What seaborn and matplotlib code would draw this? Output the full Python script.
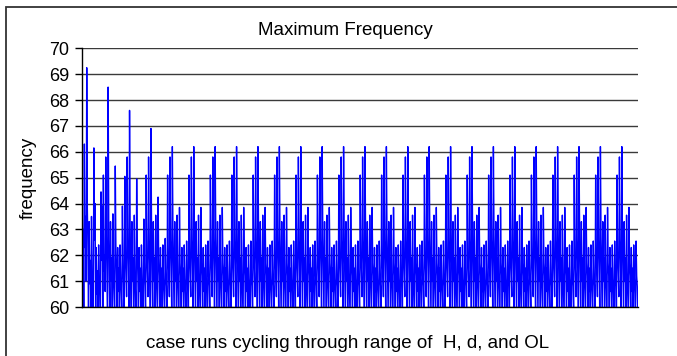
import matplotlib
matplotlib.use("Agg")
import matplotlib.pyplot as plt
from matplotlib.patches import Rectangle
import pandas as pd
import seaborn as sns

# Each case cycle: 9 spikes (3 groups of 3), 4 samples per spike,
# values (below 60 is clipped by the axis)
CYCLE_0_PART = [65.1, 62.2, 63.0, 59.6,
                66.3, 62.3, 63.5, 61.0,
                69.25, 63.8, 62.3, 59.6]

CYCLE_1 = [63.3, 60.9, 61.8, 59.6,
           63.5, 61.2, 60.4, 59.6,
           66.15, 62.6, 64.0, 59.6,
           62.3, 60.5, 61.4, 59.6,
           62.4, 61.0, 60.6, 59.6,
           64.45, 61.8, 63.9, 59.6,
           65.1, 61.4, 62.0, 60.6,
           65.8, 62.5, 61.4, 59.6,
           68.5, 63.3, 61.0, 59.6]

CYCLE_2 = [63.3, 61.0, 61.9, 59.6,
           63.6, 61.3, 60.5, 59.6,
           65.45, 62.4, 61.2, 59.6,
           62.3, 60.6, 61.5, 59.6,
           62.4, 61.1, 60.5, 59.6,
           63.9, 61.6, 60.9, 59.6,
           65.05, 62.0, 61.3, 60.4,
           65.8, 62.6, 61.5, 59.6,
           67.6, 63.2, 61.1, 59.6]

CYCLE_3 = [63.3, 61.0, 61.9, 59.6,
           63.55, 61.3, 60.5, 59.6,
           64.95, 62.2, 61.2, 59.6,
           62.3, 60.6, 61.5, 59.6,
           62.4, 61.1, 60.5, 59.6,
           63.4, 61.4, 60.8, 59.6,
           65.1, 62.0, 61.3, 60.4,
           65.8, 62.6, 61.5, 59.6,
           66.9, 63.0, 61.1, 59.6]

CYCLE_4 = [63.3, 61.0, 61.9, 59.6,
           63.55, 61.3, 60.5, 59.6,
           64.25, 61.9, 61.2, 59.6,
           62.3, 60.6, 61.5, 59.6,
           62.4, 61.1, 60.5, 59.6,
           62.65, 61.2, 60.8, 59.6,
           65.1, 62.0, 61.3, 60.4,
           65.8, 62.6, 61.5, 59.6,
           66.2, 62.9, 61.1, 59.6]

STEADY_CYCLE = [63.3, 61.0, 61.9, 59.6,
                63.55, 61.3, 60.5, 59.6,
                63.85, 61.7, 61.2, 59.6,
                62.3, 60.6, 61.5, 59.6,
                62.4, 61.1, 60.5, 59.6,
                62.55, 61.2, 60.8, 59.6,
                65.1, 62.0, 61.3, 60.4,
                65.8, 62.6, 61.5, 59.6,
                66.2, 62.9, 61.1, 59.6]
N_STEADY = 21
LAST_PART = STEADY_CYCLE[:24]

TITLE = "Maximum Frequency"
X_LABEL = "case runs cycling through range of  H, d, and OL"
Y_LABEL = "frequency"
Y_TICKS = list(range(60, 71))


def main():
    freq = (CYCLE_0_PART + CYCLE_1 + CYCLE_2 + CYCLE_3 + CYCLE_4
            + STEADY_CYCLE * N_STEADY + LAST_PART)
    df = pd.DataFrame({"case": range(len(freq)), "frequency": freq})

    sns.set_style("white")
    plt.rcParams['font.family'] = ['Liberation Sans', 'DejaVu Sans']
    plt.rcParams['text.color'] = 'black'
    plt.rcParams['ytick.color'] = 'black'

    fig = plt.figure(figsize=(6.77, 3.56), dpi=100)
    ax = fig.add_axes([0.1211, 0.1376, 0.8211, 0.7267])
    sns.lineplot(data=df, x="case", y="frequency", color="#0000ff",
                 lw=1.0, ax=ax)

    ax.set_xlim(0, len(freq) - 1)
    ax.set_ylim(Y_TICKS[0], Y_TICKS[-1])
    ax.set_yticks(Y_TICKS)
    ax.set_xticks([])
    ax.set_axisbelow(True)
    ax.yaxis.grid(True, color="#3a3a3a", lw=1)
    ax.set_xlabel("")
    ax.set_ylabel("")
    for side in ["top", "right"]:
        ax.spines[side].set_visible(False)
    for side in ["left", "bottom"]:
        ax.spines[side].set_color("black")
        ax.spines[side].set_linewidth(1)
    ax.tick_params(axis="y", left=True, direction="out", length=5,
                   width=1, color="black", labelcolor="black",
                   labelsize=13, pad=4)

    fig.text(0.51, 0.913, TITLE, ha="center", va="center", fontsize=13.5)
    fig.text(0.042, 0.5, Y_LABEL, ha="center", va="center",
             rotation=90, fontsize=13.5)
    fig.text(0.514, 0.036, X_LABEL, ha="center", va="center",
             fontsize=13.5)

    # chart frame, cropped at right and bottom like the reference
    fig.patches.append(Rectangle((0.0096, -0.1), 1.2, 1.079, fill=False,
                                 edgecolor="#333333", lw=1.3,
                                 transform=fig.transFigure))

    fig.savefig("out.png", dpi=100)


if __name__ == "__main__":
    main()
